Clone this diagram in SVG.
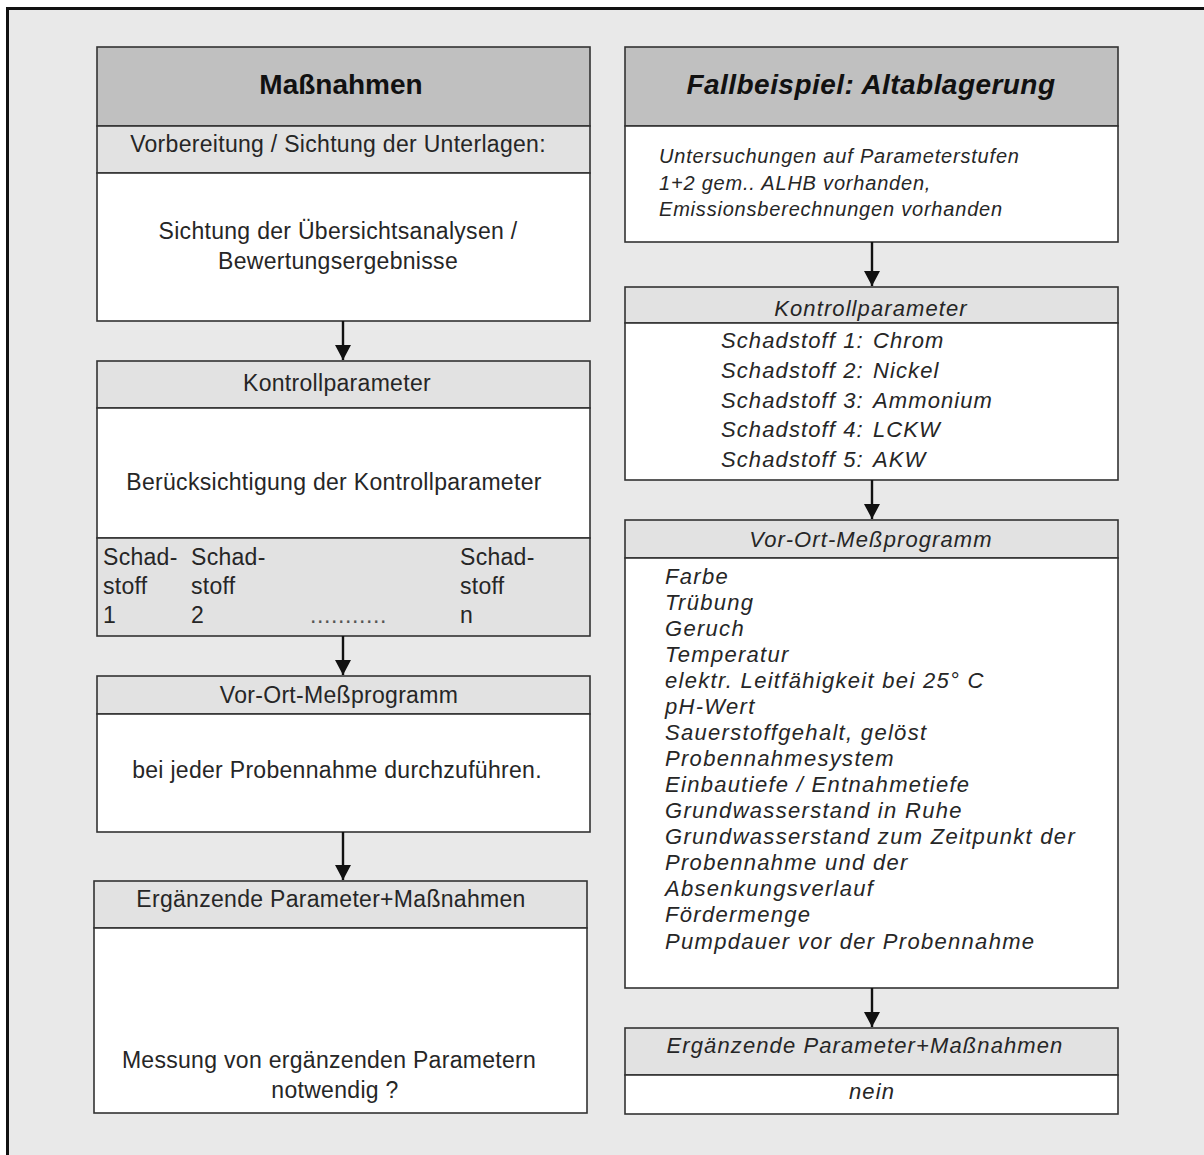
<svg xmlns="http://www.w3.org/2000/svg" width="1204" height="1155" viewBox="0 0 1204 1155">
  <defs>
    <style>
      .frame { fill: #e9e9e9; stroke: #111; stroke-width: 3; }
      .box { stroke: #333; stroke-width: 1.6; }
      .dark { fill: #c0c0c0; }
      .light { fill: #e2e2e2; }
      .white { fill: #ffffff; }
      text { font-family: "Liberation Sans", Arial, sans-serif; fill: #262626; }
      .title { font-size: 28px; font-weight: bold; fill: #111; }
      .t { font-size: 23px; letter-spacing: 0.3px; }
      .i { font-size: 22px; font-style: italic; letter-spacing: 1.1px; }
      .li { letter-spacing: 1.3px; }
      .is { font-size: 20px; font-style: italic; letter-spacing: 0.8px; }
      .c { text-anchor: middle; }
      .dots { font-size: 23px; fill: #555; letter-spacing: 0.6px; }
      .conn { stroke: #111; stroke-width: 2.4; fill: none; }
    </style>
    <marker id="arrow" viewBox="0 0 15 16" refX="15" refY="8" markerWidth="15" markerHeight="16" markerUnits="userSpaceOnUse" orient="auto">
      <path d="M0,0 L15,8 L0,16 Z" fill="#111"/>
    </marker>
  </defs>

  <!-- page frame -->
  <rect class="frame" x="7.5" y="8.5" width="1210" height="1160"/>

  <!-- left column: Maßnahmen -->
  <g id="massnahmen">
    <rect class="box dark" x="97" y="47" width="493" height="79"/>
    <rect class="box light" x="97" y="126" width="493" height="47"/>
    <rect class="box white" x="97" y="173" width="493" height="148"/>
    <text class="title c" x="341" y="94">Maßnahmen</text>
    <text class="t c" x="338" y="152">Vorbereitung / Sichtung der Unterlagen:</text>
    <text class="t c" x="338" y="239">Sichtung der Übersichtsanalysen /</text>
    <text class="t c" x="338" y="269">Bewertungsergebnisse</text>
  </g>

  <g id="kontrollparameter-left">
    <rect class="box light" x="97" y="361" width="493" height="47"/>
    <rect class="box white" x="97" y="408" width="493" height="130"/>
    <rect class="box light" x="97" y="538" width="493" height="98"/>
    <text class="t c" x="337" y="391">Kontrollparameter</text>
    <text class="t c" x="334" y="490">Berücksichtigung der Kontrollparameter</text>
    <text class="t" x="103" y="565">Schad-</text>
    <text class="t" x="103" y="594">stoff</text>
    <text class="t" x="103" y="623">1</text>
    <text class="t" x="191" y="565">Schad-</text>
    <text class="t" x="191" y="594">stoff</text>
    <text class="t" x="191" y="623">2</text>
    <text class="dots" x="310" y="623">...........</text>
    <text class="t" x="460" y="565">Schad-</text>
    <text class="t" x="460" y="594">stoff</text>
    <text class="t" x="460" y="623">n</text>
  </g>

  <g id="vor-ort-left">
    <rect class="box light" x="97" y="676" width="493" height="38"/>
    <rect class="box white" x="97" y="714" width="493" height="118"/>
    <text class="t c" x="339" y="703">Vor-Ort-Meßprogramm</text>
    <text class="t c" x="337" y="778">bei jeder Probennahme durchzuführen.</text>
  </g>

  <g id="ergaenzende-left">
    <rect class="box light" x="94" y="881" width="493" height="47"/>
    <rect class="box white" x="94" y="928" width="493" height="185"/>
    <text class="t c" x="331" y="907">Ergänzende Parameter+Maßnahmen</text>
    <text class="t c" x="329" y="1068">Messung von ergänzenden Parametern</text>
    <text class="t c" x="335" y="1098">notwendig ?</text>
  </g>

  <!-- right column: Fallbeispiel -->
  <g id="fallbeispiel">
    <rect class="box dark" x="625" y="47" width="493" height="79"/>
    <rect class="box white" x="625" y="126" width="493" height="116"/>
    <text class="title c" x="871" y="94" font-style="italic" letter-spacing="0.45">Fallbeispiel: Altablagerung</text>
    <text class="is" x="659" y="163">Untersuchungen auf Parameterstufen</text>
    <text class="is" x="659" y="190">1+2 gem.. ALHB vorhanden,</text>
    <text class="is" x="659" y="216">Emissionsberechnungen vorhanden</text>
  </g>

  <g id="kontrollparameter-right">
    <rect class="box light" x="625" y="287" width="493" height="36"/>
    <rect class="box white" x="625" y="323" width="493" height="157"/>
    <text class="i c" x="871" y="316">Kontrollparameter</text>
    <text class="i" x="721" y="348">Schadstoff 1:</text><text class="i" x="873" y="348">Chrom</text>
    <text class="i" x="721" y="378">Schadstoff 2:</text><text class="i" x="873" y="378">Nickel</text>
    <text class="i" x="721" y="408">Schadstoff 3:</text><text class="i" x="873" y="408">Ammonium</text>
    <text class="i" x="721" y="437">Schadstoff 4:</text><text class="i" x="873" y="437">LCKW</text>
    <text class="i" x="721" y="467">Schadstoff 5:</text><text class="i" x="873" y="467">AKW</text>
  </g>

  <g id="vor-ort-right">
    <rect class="box light" x="625" y="520" width="493" height="38"/>
    <rect class="box white" x="625" y="558" width="493" height="430"/>
    <text class="i c" x="871" y="547">Vor-Ort-Meßprogramm</text>
    <text class="i li" x="665" y="584">Farbe</text>
    <text class="i li" x="665" y="610">Trübung</text>
    <text class="i li" x="665" y="636">Geruch</text>
    <text class="i li" x="665" y="662">Temperatur</text>
    <text class="i li" x="665" y="688">elektr. Leitfähigkeit bei 25° C</text>
    <text class="i li" x="665" y="714">pH-Wert</text>
    <text class="i li" x="665" y="740">Sauerstoffgehalt, gelöst</text>
    <text class="i li" x="665" y="766">Probennahmesystem</text>
    <text class="i li" x="665" y="792">Einbautiefe / Entnahmetiefe</text>
    <text class="i li" x="665" y="818">Grundwasserstand in Ruhe</text>
    <text class="i li" x="665" y="844">Grundwasserstand zum Zeitpunkt der</text>
    <text class="i li" x="665" y="870">Probennahme und der</text>
    <text class="i li" x="665" y="896">Absenkungsverlauf</text>
    <text class="i li" x="665" y="922">Fördermenge</text>
    <text class="i li" x="665" y="949">Pumpdauer vor der Probennahme</text>
  </g>

  <g id="ergaenzende-right">
    <rect class="box light" x="625" y="1028" width="493" height="47"/>
    <rect class="box white" x="625" y="1075" width="493" height="39"/>
    <text class="i c" x="865" y="1053">Ergänzende Parameter+Maßnahmen</text>
    <text class="i c" x="872" y="1099">nein</text>
  </g>

  <!-- flow connectors -->
  <g id="connectors">
    <line class="conn" x1="343" y1="321" x2="343" y2="360" marker-end="url(#arrow)"/>
    <line class="conn" x1="343" y1="636" x2="343" y2="675" marker-end="url(#arrow)"/>
    <line class="conn" x1="343" y1="832" x2="343" y2="880" marker-end="url(#arrow)"/>
    <line class="conn" x1="872" y1="242" x2="872" y2="286" marker-end="url(#arrow)"/>
    <line class="conn" x1="872" y1="480" x2="872" y2="519" marker-end="url(#arrow)"/>
    <line class="conn" x1="872" y1="988" x2="872" y2="1027" marker-end="url(#arrow)"/>
  </g>
</svg>
